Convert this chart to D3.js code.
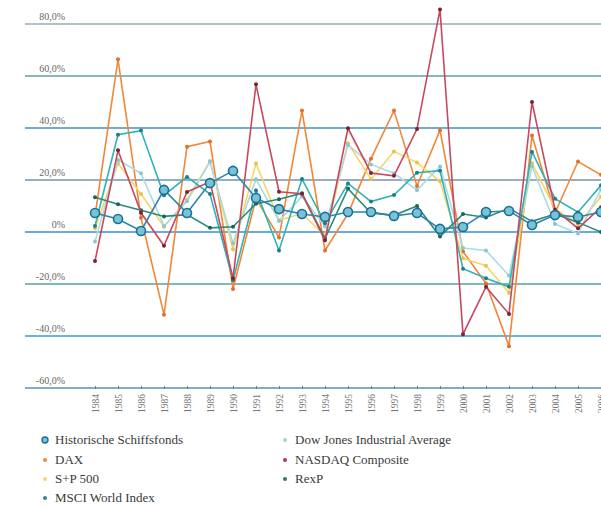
<!DOCTYPE html>
<html>
<head>
<meta charset="utf-8">
<script src="https://cdn.jsdelivr.net/npm/d3@7"></script>
<style>
  html, body { margin: 0; padding: 0; background: #fff; }
  svg { display: block; }
  .serif { font-family: "Liberation Serif", "DejaVu Serif", serif; }
</style>
</head>
<body>
<svg id="chart" width="601" height="508"></svg>
<script>
// Jahre (Kategorien)
const years = ["1984","1985","1986","1987","1988","1989","1990","1991","1992","1993","1994","1995",
  "1996","1997","1998","1999","2000","2001","2002","2003","2004","2005","2006"];

// Jährliche Renditen in Prozent
const schiffsfonds = [7.3, 5.0, 0.4, 16.2, 7.3, 18.8, 23.5, 13.1, 8.8, 6.9, 5.8, 7.7,
  7.7, 6.2, 7.3, 1.2, 1.9, 7.7, 8.1, 2.7, 6.5, 5.8, 7.7];
const dax = [6.1, 66.4, 5.5, -31.8, 32.8, 34.8, -21.9, 12.9, -2.1, 46.7, -7.1, 7.0,
  28.2, 46.7, 17.7, 39.1, -7.5, -19.8, -43.9, 37.1, 7.3, 27.1, 22.0];
const sp500 = [1.4, 26.3, 14.6, 2.0, 12.4, 27.3, -6.6, 26.3, 4.5, 7.1, -1.5, 34.1,
  20.3, 31.0, 26.7, 19.5, -10.1, -13.0, -23.4, 26.4, 9.0, 3.0, 13.6];
const msciWorld = [2.3, 37.4, 39.0, 14.1, 21.2, 14.6, -18.6, 16.0, -7.1, 20.4, 3.4, 18.7,
  11.7, 14.2, 22.8, 23.6, -14.1, -17.8, -21.1, 30.8, 12.8, 7.6, 18.0];
const dowJones = [-3.7, 27.7, 22.6, 2.3, 11.8, 27.0, -4.3, 20.3, 4.2, 13.7, 2.1, 33.5,
  26.0, 22.6, 16.1, 25.2, -6.2, -7.1, -16.8, 25.3, 3.1, -0.6, 16.3];
const nasdaq = [-11.2, 31.4, 7.4, -5.3, 15.4, 19.3, -17.8, 56.8, 15.5, 14.7, -3.2, 39.9,
  22.7, 21.6, 39.6, 85.6, -39.3, -21.1, -31.5, 50.0, 8.6, 1.4, 9.5];
const rexp = [13.4, 10.7, 8.4, 6.0, 6.7, 1.6, 2.0, 10.9, 12.6, 14.9, -2.5, 16.7,
  7.3, 6.4, 10.0, -1.7, 6.9, 5.6, 9.1, 4.1, 6.9, 3.7, 0.0];

// Achsenbeschriftung
const yTicks = [80, 60, 40, 20, 0, -20, -40, -60];
const yTickLabels = ["80,0%", "60,0%", "40,0%", "20,0%", "0%", "-20,0%", "-40,0%", "-60,0%"];

const seriesNames = ["Historische Schiffsfonds", "DAX", "S+P 500", "MSCI World Index",
  "Dow Jones Industrial Average", "NASDAQ Composite", "RexP"];

const series = [
  { name: seriesNames[1], values: dax,       color: "#f0883a", dot: "#e0702a" },
  { name: seriesNames[2], values: sp500,     color: "#f6d66a", dot: "#e9c24a" },
  { name: seriesNames[4], values: dowJones,  color: "#a9dbe4", dot: "#8cc6d2" },
  { name: seriesNames[3], values: msciWorld, color: "#2fb2b8", dot: "#1e7e88" },
  { name: seriesNames[6], values: rexp,      color: "#2b8a7c", dot: "#1d6458" },
  { name: seriesNames[5], values: nasdaq,    color: "#c8485e", dot: "#7a2236" },
  { name: seriesNames[0], values: schiffsfonds, color: "#2a86ad", dot: "#1b6f94", big: true }
];

const svg = d3.select("#chart");

const x = d3.scalePoint().domain(years).range([95, 601]);
const y = d3.scaleLinear().domain([-60, 80]).range([388, 24]);

// Gitterlinien
const gridColors = ["#98aeb0", "#5e9fa2", "#3f92c2", "#6f95ad", "#3a8fcf", "#55a09c", "#3b9bd1", "#5f8fae"];
svg.append("g").selectAll("line").data(yTicks).join("line")
  .attr("x1", 25).attr("x2", 601)
  .attr("y1", d => y(d)).attr("y2", d => y(d))
  .attr("stroke", (d, i) => gridColors[i])
  .attr("stroke-width", 1.6);

svg.append("g").selectAll("text").data(yTicks).join("text")
  .attr("class", "serif")
  .attr("x", 65).attr("y", d => y(d) - 4)
  .attr("text-anchor", "end")
  .attr("font-size", 10)
  .attr("fill", "#666")
  .text((d, i) => yTickLabels[i]);

// x-Achse
const xAxis = d3.axisBottom(x).tickSize(3).tickPadding(4);
const gx = svg.append("g").attr("transform", `translate(0,${y(-60) - 2})`).call(xAxis);
gx.attr("font-family", null);
gx.select(".domain").remove();
gx.selectAll(".tick line").attr("stroke", "#777");
gx.selectAll(".tick text")
  .attr("class", "serif")
  .attr("font-size", 9.5)
  .attr("fill", "#777")
  .attr("transform", "rotate(-90)")
  .attr("text-anchor", "end")
  .attr("x", -8).attr("y", 0).attr("dy", "0.35em");

// Linien
const line = d3.line().x((d, i) => x(years[i])).y(d => y(d));

series.forEach(s => {
  const g = svg.append("g");
  g.append("path").datum(s.values)
    .attr("fill", "none").attr("stroke", s.color).attr("stroke-width", 1.6)
    .attr("d", line);
  g.selectAll("circle").data(s.values).join("circle")
    .attr("cx", (d, i) => x(years[i])).attr("cy", d => y(d))
    .attr("r", s.big ? 4.5 : 2)
    .attr("fill", s.big ? "#79c3d8" : s.dot)
    .attr("stroke", s.big ? s.dot : "none")
    .attr("stroke-width", s.big ? 1.6 : 0);
});

// Legende
const legendItems = [
  { name: seriesNames[0], color: "#79c3d8", stroke: "#1b6f94", big: true, col: 0, row: 0 },
  { name: seriesNames[1], color: "#f0883a", col: 0, row: 1 },
  { name: seriesNames[2], color: "#f6d66a", col: 0, row: 2 },
  { name: seriesNames[3], color: "#3d7f92", col: 0, row: 3 },
  { name: seriesNames[4], color: "#a9cfd8", col: 1, row: 0 },
  { name: seriesNames[5], color: "#b03a55", col: 1, row: 1 },
  { name: seriesNames[6], color: "#2b7a6c", col: 1, row: 2 }
];
const lg = svg.append("g");
const colX = [45, 285], rowY = [440, 460, 479, 498];
legendItems.forEach(it => {
  const cx = colX[it.col], cy = rowY[it.row];
  lg.append("circle").attr("cx", cx).attr("cy", cy)
    .attr("r", it.big ? 3 : 2)
    .attr("fill", it.color)
    .attr("stroke", it.big ? it.stroke : "none").attr("stroke-width", 1.4);
  lg.append("text").attr("class", "serif")
    .attr("x", cx + 10).attr("y", cy + 4)
    .attr("font-size", 13)
    .attr("fill", "#3a3a3a")
    .text(it.name);
});
</script>
</body>
</html>
